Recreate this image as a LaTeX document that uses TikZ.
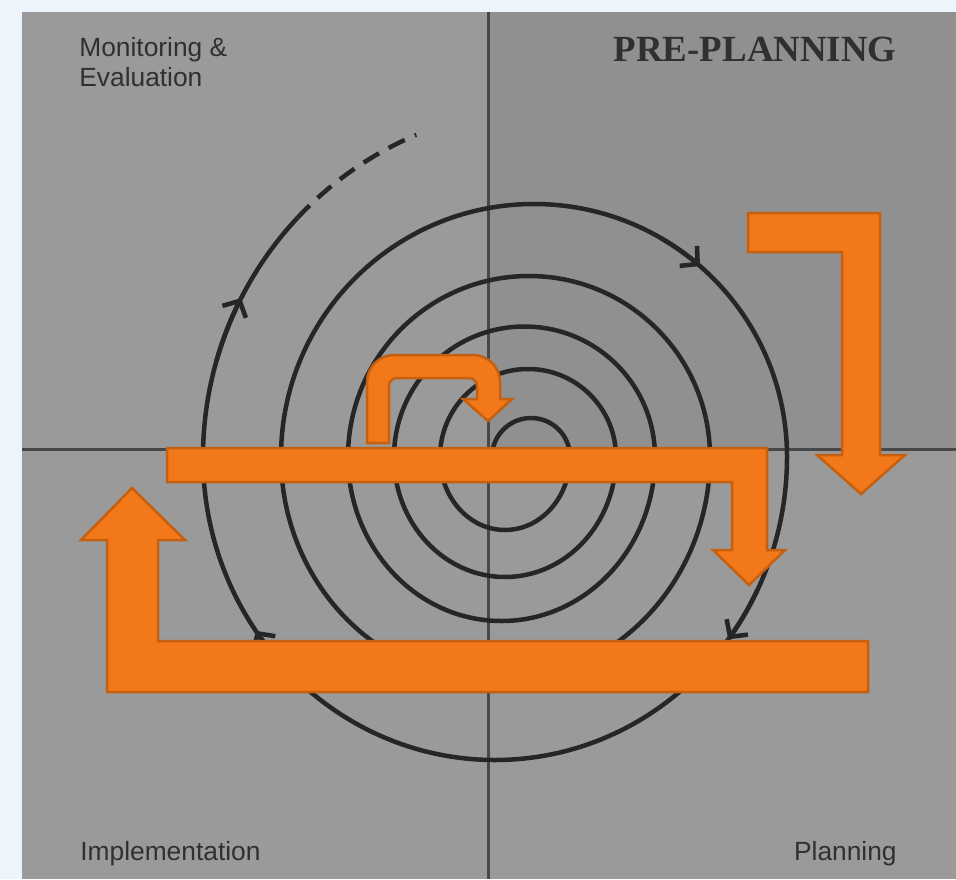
\documentclass[tikz,border=0pt]{standalone}
\usepackage{fontspec}
\setmainfont{Liberation Sans}
\newfontfamily\headfont{Liberation Serif}
\usetikzlibrary{arrows.meta}

\newlength{\du}
\setlength{\du}{0.02cm}

\definecolor{pagecolor}{HTML}{EEF4FB}
\definecolor{panelcolor}{HTML}{9A9A9A}
\definecolor{quadcolor}{HTML}{909090}
\definecolor{axiscolor}{HTML}{474747}
\definecolor{spiralcolor}{HTML}{262626}
\definecolor{orangefill}{HTML}{F27819}
\definecolor{orangeline}{HTML}{C4600F}
\definecolor{labelcolor}{HTML}{303030}

\tikzset{
  spiral/.style={draw=spiralcolor, line width=4.5\du},
  spiraltip/.style={spiral, -{Straight Barb[length=7pt, width=15pt, line width=2.6pt]}},
  axisline/.style={draw=axiscolor, line width=3\du},
  bentarrow/.style={fill=orangefill, draw=orangeline, line width=2.5\du, line join=miter},
  quadlabel/.style={inner sep=0pt, text=labelcolor, font=\fontsize{15}{15}\selectfont},
}

\begin{document}
\begin{tikzpicture}[x=\du,y=\du]
\pgftransformyscale{-1.000000}
\useasboundingbox (0,0) rectangle (956,879);
% panel and quadrants
\fill[pagecolor] (0,0) rectangle (956,879);
\fill[panelcolor] (22,12) rectangle (956,879);
\fill[quadcolor] (488,12) rectangle (956,449);
\draw[axisline] (488,12) -- (488,879);
\draw[axisline] (22,449) -- (956,449);
% spiral, from the centre outwards
\draw[spiral] (492,457)
  arc[start angle=180, end angle=360, radius=39]
  arc[start angle=0, end angle=180, x radius=65, y radius=73]
  arc[start angle=180, end angle=360, radius=88]
  arc[start angle=0, end angle=180, x radius=111, y radius=120]
  arc[start angle=180, end angle=360, radius=130.5]
  arc[start angle=0, end angle=180, x radius=153.5, y radius=164]
  arc[start angle=180, end angle=360, radius=181]
  arc[start angle=0, end angle=180, x radius=214.5, y radius=225]
  arc[start angle=180, end angle=360, radius=253]
  arc[start angle=0, end angle=180, x radius=292, y radius=303]
  arc[start angle=180, end angle=223, radius=350];
\draw[spiral, dash pattern=on 18\du off 11\du] (553,457) ++(223:350)
  arc[start angle=223, end angle=247, radius=350];
% direction marks
\draw[spiraltip] (534,457) ++(300:253) arc[start angle=300, end angle=311, radius=253];
\draw[spiraltip] (553,457) ++(196:350) arc[start angle=196, end angle=207, radius=350];
\draw[spiraltip] (495,457) ++(26:292 and 303) arc[start angle=26, end angle=37, x radius=292, y radius=303];
\draw[spiraltip] (495,457) ++(134:292 and 303) arc[start angle=134, end angle=145, x radius=292, y radius=303];
% orange arrows
\draw[bentarrow] (748,213) -- (880,213) -- (880,455) -- (905,455) -- (861,494)
  -- (817,455) -- (842,455) -- (842,252) -- (748,252) -- cycle;
\draw[bentarrow] (167,448) -- (767,448) -- (767,550) -- (785,550) -- (749,585)
  -- (713,550) -- (732,550) -- (732,482) -- (167,482) -- cycle;
\draw[bentarrow] (868,641) -- (868,692) -- (107,692) -- (107,540) -- (81,540)
  -- (132,488) -- (185,540) -- (158,540) -- (158,641) -- cycle;
\draw[bentarrow] (367,443) -- (367,382)
  arc[start angle=180, end angle=270, radius=27] -- (473,355)
  arc[start angle=270, end angle=360, radius=27] -- (500,399) -- (512,399)
  -- (488,421) -- (463,399) -- (477,399) -- (477,386)
  arc[start angle=0, end angle=-90, radius=8] -- (397,378)
  arc[start angle=270, end angle=180, radius=8] -- (389,443) -- cycle;
% quadrant labels
\node[quadlabel, anchor=north west, align=left] (monitoring) at (79,37) {Monitoring \&\\[2pt]Evaluation};
\node[anchor=base east, inner sep=0pt, text=labelcolor,
  font=\headfont\bfseries\fontsize{21}{24}\selectfont] (preplanning) at (897,61) {PRE-PLANNING};
\node[quadlabel, anchor=base west] (implementation) at (80,860) {Implementation};
\node[quadlabel, anchor=base east] (planning) at (897,860) {Planning};
\end{tikzpicture}
\end{document}
